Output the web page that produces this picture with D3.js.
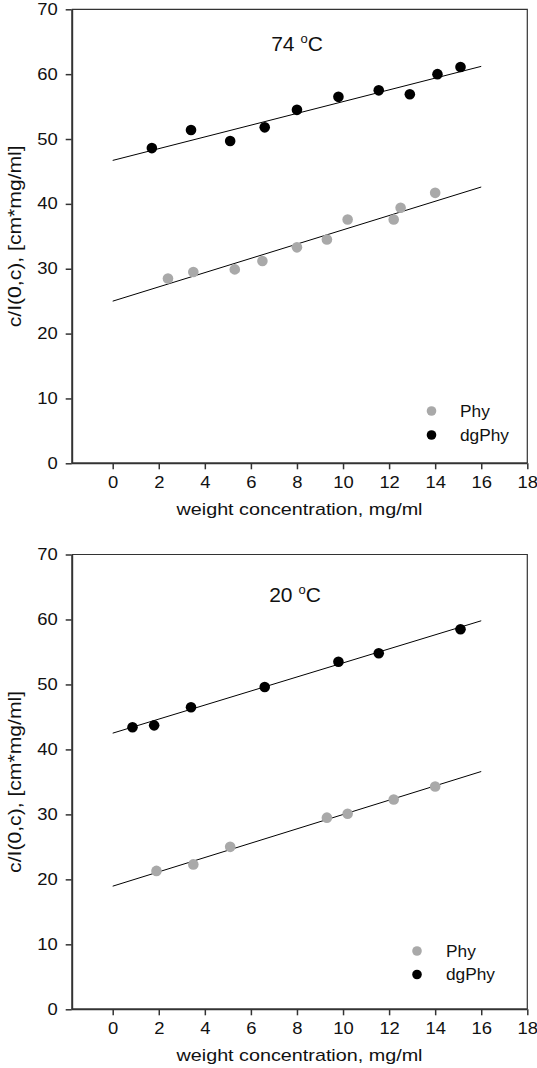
<!DOCTYPE html>
<html>
<head>
<meta charset="utf-8">
<script src="https://cdn.jsdelivr.net/npm/d3@7"></script>
<style>
  html, body { margin: 0; padding: 0; background: #fff; }
  svg { display: block; }
  text { font-family: "Liberation Sans", Arial, sans-serif; fill: #111; }
</style>
</head>
<body>
<svg id="chart" width="537" height="1068"></svg>
<script>
// ---- data ----
const xTicks = [0, 2, 4, 6, 8, 10, 12, 14, 16, 18];
const yTicks = [0, 10, 20, 30, 40, 50, 60, 70];
const seriesNames = ["Phy", "dgPhy"];
const panelTitles = ["74", "20"];

// 74 °C
const phy74X   = [2.4, 3.5, 5.3, 6.5, 8.0, 9.3, 10.2, 12.2, 12.5, 14.0];
const phy74Y   = [28.5, 29.5, 29.9, 31.2, 33.3, 34.5, 37.6, 37.6, 39.4, 41.7];
const dg74X    = [1.7, 3.4, 5.1, 6.6, 8.0, 9.8, 11.55, 12.9, 14.1, 15.1];
const dg74Y    = [48.6, 51.4, 49.7, 51.8, 54.5, 56.5, 57.5, 56.9, 60.0, 61.1];
const fitX     = [0, 16];
const phy74Fit = [25.0, 42.6];
const dg74Fit  = [46.7, 61.2];

// 20 °C
const phy20X   = [1.9, 3.5, 5.1, 9.3, 10.2, 12.2, 14.0];
const phy20Y   = [21.3, 22.3, 25.0, 29.5, 30.1, 32.3, 34.3];
const dg20X    = [0.86, 1.8, 3.4, 6.6, 9.8, 11.55, 15.1];
const dg20Y    = [43.4, 43.7, 46.5, 49.6, 53.5, 54.8, 58.5];
const phy20Fit = [18.95, 36.6];
const dg20Fit  = [42.5, 59.8];

const colors = { Phy: "#a9a9a9", dgPhy: "#000000" };

const panels = [
  { title: panelTitles[0], top: 9.3, bottom: 463.3, titleX: 297, titleY: 51,
    legend: { x: 431.5, y0: 411, y1: 435, tx: 460 },
    phy: { x: phy74X, y: phy74Y, fit: phy74Fit },
    dg:  { x: dg74X,  y: dg74Y,  fit: dg74Fit } },
  { title: panelTitles[1], top: 554.5, bottom: 1009.3, titleX: 295, titleY: 601.5,
    legend: { x: 417, y0: 951, y1: 974.5, tx: 446 },
    phy: { x: phy20X, y: phy20Y, fit: phy20Fit },
    dg:  { x: dg20X,  y: dg20Y,  fit: dg20Fit } }
];

const svg = d3.select("#chart");
const left = 71.7, right = 527.3;

function stretch(sel, k) {
  sel.each(function () {
    const w = this.getComputedTextLength();
    d3.select(this).attr("textLength", w * k).attr("lengthAdjust", "spacingAndGlyphs");
  });
}

panels.forEach(p => {
  const x = d3.scaleLinear().domain([-1.78, 18]).range([left, right]);
  const y = d3.scaleLinear().domain([0, 70]).range([p.bottom, p.top]);
  const g = svg.append("g");

  // frame (top & right)
  g.append("path")
    .attr("d", `M${left},${p.top}H${right}V${p.bottom}`)
    .attr("fill", "none").attr("stroke", "#333").attr("stroke-width", 1.2);

  // fit lines
  [p.phy.fit, p.dg.fit].forEach(fy => {
    g.append("line")
      .attr("x1", x(fitX[0])).attr("y1", y(fy[0]))
      .attr("x2", x(fitX[1])).attr("y2", y(fy[1]))
      .attr("stroke", "#000").attr("stroke-width", 1);
  });

  // points
  [["Phy", p.phy], ["dgPhy", p.dg]].forEach(([name, s]) => {
    g.append("g").selectAll("circle")
      .data(s.x.map((v, i) => [v, s.y[i]]))
      .join("circle")
      .attr("cx", d => x(d[0])).attr("cy", d => y(d[1]))
      .attr("r", 5.3).attr("fill", colors[name]);
  });

  // axes
  const xa = g.append("g").attr("transform", `translate(0,${p.bottom})`)
    .call(d3.axisBottom(x).tickValues(xTicks).tickSize(6).tickPadding(7).tickSizeOuter(0));
  const ya = g.append("g").attr("transform", `translate(${left},0)`)
    .call(d3.axisLeft(y).tickValues(yTicks).tickSize(6).tickPadding(8).tickSizeOuter(0));
  [xa, ya].forEach(a => {
    a.select(".domain").attr("stroke", "#333").attr("stroke-width", 2);
    a.selectAll(".tick line").attr("stroke", "#333").attr("stroke-width", 1.5);
    a.selectAll(".tick text").attr("font-size", 16).attr("fill", "#111")
      .attr("font-family", '"Liberation Sans", Arial, sans-serif');
    stretch(a.selectAll(".tick text"), 1.15);
  });
  xa.select(".domain").attr("d", `M${left},0H${right}`);

  // titles
  const t = g.append("text").attr("x", p.titleX).attr("y", p.titleY)
    .attr("text-anchor", "middle").attr("font-size", 21);
  t.append("tspan").text(p.title + " ");
  t.append("tspan").attr("font-size", 13).attr("dy", -8).text("o");
  t.append("tspan").attr("dy", 8).text("C");

  g.append("text")
    .attr("x", (left + right) / 2).attr("y", p.bottom + 52)
    .attr("text-anchor", "middle").attr("font-size", 17)
    .attr("textLength", 246).attr("lengthAdjust", "spacingAndGlyphs")
    .text("weight concentration, mg/ml");

  g.append("text")
    .attr("transform", `translate(21,${(p.top + p.bottom) / 2}) rotate(-90)`)
    .attr("text-anchor", "middle").attr("font-size", 18)
    .attr("textLength", 182).attr("lengthAdjust", "spacingAndGlyphs")
    .text("c/I(0,c), [cm*mg/ml]");

  // legend
  const L = p.legend;
  [["Phy", L.y0], ["dgPhy", L.y1]].forEach(([name, ly]) => {
    g.append("circle").attr("cx", L.x).attr("cy", ly).attr("r", 4.8).attr("fill", colors[name]);
    const lt = g.append("text").attr("x", L.tx).attr("y", ly + 5.5).attr("font-size", 16).text(name);
    stretch(lt, 1.08);
  });
});
</script>
</body>
</html>
